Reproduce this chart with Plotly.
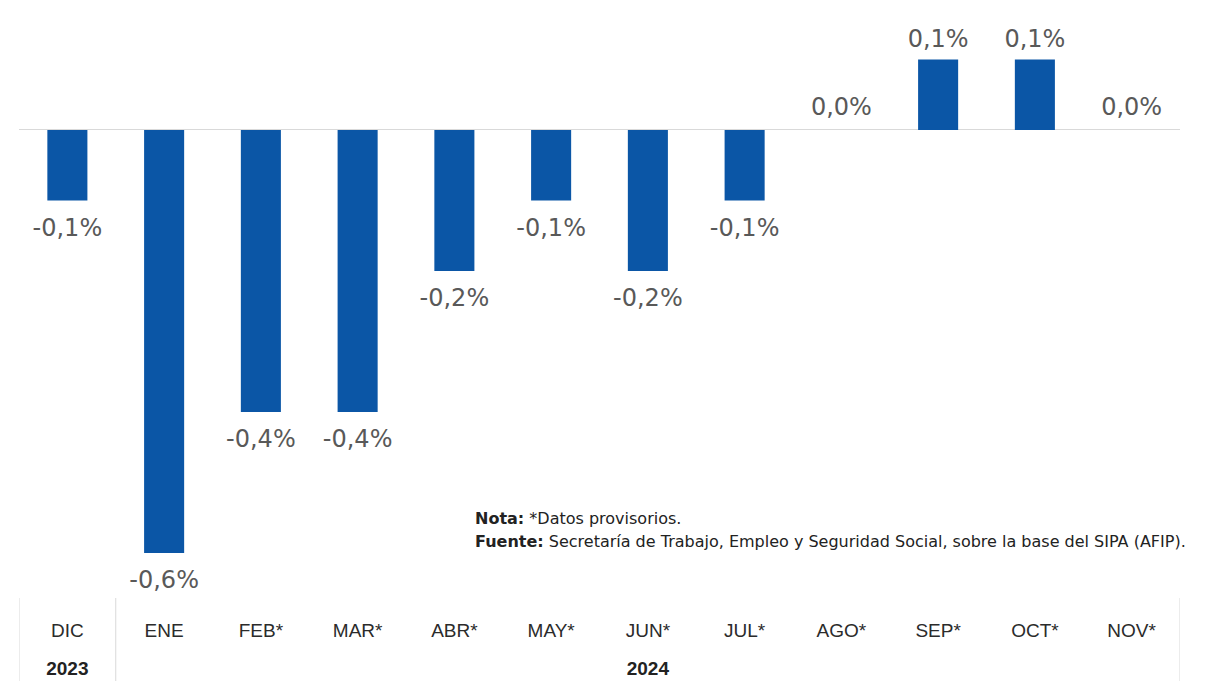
import plotly.graph_objects as go

months = ["DIC", "ENE", "FEB*", "MAR*", "ABR*", "MAY*", "JUN*", "JUL*", "AGO*", "SEP*", "OCT*", "NOV*"]
year_ticks = ["DIC", "JUN*"]
year_text = ["2023", "2024"]
values = [-0.1, -0.6, -0.4, -0.4, -0.2, -0.1, -0.2, -0.1, 0.0, 0.1, 0.1, 0.0]
labels = ["-0,1%", "-0,6%", "-0,4%", "-0,4%", "-0,2%", "-0,1%", "-0,2%", "-0,1%", "0,0%", "0,1%", "0,1%", "0,0%"]

BAR = "#0B56A6"
FONT = "Liberation Sans, Arial, sans-serif"
LBLFONT = "DejaVu Sans, sans-serif"
GRID = "#D9D9D9"
XR = [-0.5, len(months) - 0.5]

fig = go.Figure()
fig.add_trace(go.Bar(
    x=months, y=values,
    marker=dict(color=BAR, line=dict(width=0)),
    hoverinfo="skip",
))
fig.add_trace(go.Scatter(
    x=months, y=values, xaxis="x2",
    mode="markers+text",
    text=labels,
    textposition=["bottom center" if v < 0 else "top center" for v in values],
    textfont=dict(family=LBLFONT, size=24, color="#595959"),
    marker=dict(size=[26 if v < 0 else (12 if v == 0 else 8) for v in values], opacity=0),
    hoverinfo="skip",
    cliponaxis=False,
))

# group dividers below the axis
div_pos = [XR[0], 0.5, XR[1]]
shapes = [dict(type="line", xref="x", yref="paper", x0=p, x1=p, y0=0, y1=-0.145,
               line=dict(color=GRID, width=1)) for p in div_pos]

fig.update_layout(
    width=1198, height=673,
    margin=dict(l=11, r=26, t=12, b=83, autoexpand=False),
    paper_bgcolor="white", plot_bgcolor="white",
    showlegend=False,
    bargap=0.586,
    font=dict(family=FONT),
    xaxis=dict(
        type="category", categoryorder="array", categoryarray=months, range=XR,
        showgrid=False, zeroline=False, showline=False, automargin=False,
        ticks="outside", ticklen=15, tickcolor="rgba(0,0,0,0)",
        tickfont=dict(family=FONT, size=19, color="#2b2b2b"),
    ),
    xaxis2=dict(
        type="category", categoryorder="array", categoryarray=months, range=XR,
        overlaying="x", anchor="y", side="bottom", automargin=False,
        showgrid=False, zeroline=False, showline=False,
        tickmode="array", tickvals=year_ticks, ticktext=year_text,
        ticks="outside", ticklen=53, tickcolor="rgba(0,0,0,0)",
        tickfont=dict(family=FONT, size=19, color="#222222", weight="bold"),
    ),
    yaxis=dict(
        range=[-0.664, 0.156], automargin=False,
        showgrid=False, showticklabels=False, ticks="",
        zeroline=True, zerolinecolor=GRID, zerolinewidth=1,
    ),
    shapes=shapes,
    annotations=[
        dict(xref="paper", yref="paper", x=0.391, y=0.138, xanchor="left", yanchor="middle",
             text="<b>Nota:</b> *Datos provisorios.", showarrow=False,
             font=dict(family=LBLFONT, size=16, color="#222222")),
        dict(xref="paper", yref="paper", x=0.391, y=0.0986, xanchor="left", yanchor="middle",
             text="<b>Fuente:</b> Secretaría de Trabajo, Empleo y Seguridad Social, sobre la base del SIPA (AFIP).",
             showarrow=False, font=dict(family=LBLFONT, size=16, color="#222222")),
    ],
)

fig.write_html("out.html")
